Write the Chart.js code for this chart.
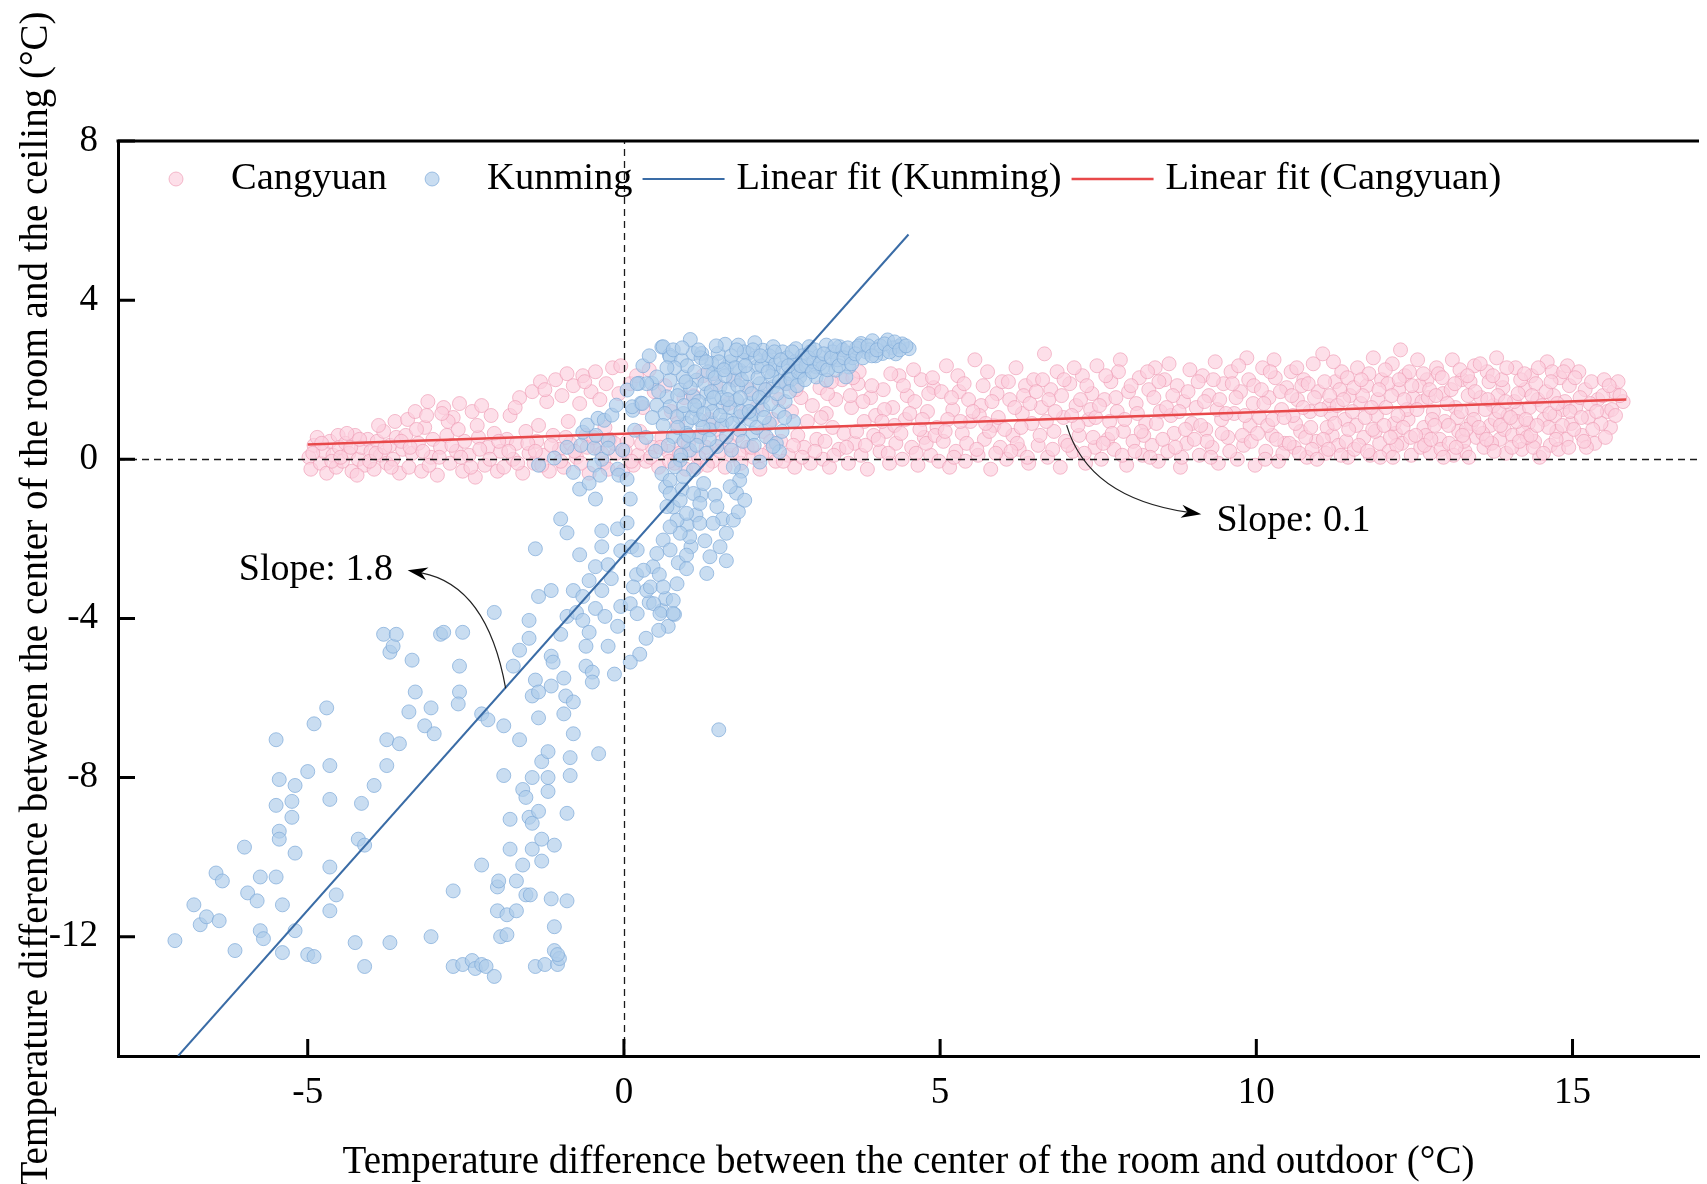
<!DOCTYPE html>
<html>
<head>
<meta charset="utf-8">
<title>Temperature difference: room centre vs ceiling</title>
<script src="https://cdn.jsdelivr.net/npm/chart.js@4.4.1/dist/chart.umd.min.js"></script>
<style>
  html, body { margin: 0; padding: 0; background: #fff; }
  #wrap { width: 1707px; height: 1184px; }
</style>
</head>
<body>
<div id="wrap"><canvas id="chart" width="1707" height="1184"></canvas></div>
<script>
// --- Axis ticks ---
const xTicks = [-5, 0, 5, 10, 15];
const yTicks = [-12, -8, -4, 0, 4, 8];

// --- Cangyuan points, flat x,y pairs ---
const cangyuanWest = [
  -4.98,0.05, -4.95,-0.25, -4.9,0.35, -4.85,0.55, -4.8,-0.1, -4.75,0.2, -4.7,-0.35, -4.65,0.45, -4.6,0.1, -4.55,-0.2, -4.52,0.6, -4.5,0.3,
  -4.45,-0.05, -4.4,0.4, -4.35,0.15, -4.3,-0.3, -4.25,0.6, -4.2,0.0, -4.15,0.3, -4.1,-0.15, -4.05,0.5, -4.0,0.2, -4.38,0.65, -4.22,-0.4,
  -3.95,-0.25, -3.9,0.45, -3.85,0.1, -3.8,0.7, -3.75,-0.1, -3.7,0.35, -3.65,0.0, -3.6,0.55, -3.55,-0.35, -3.5,0.25, -3.88,0.85, -3.62,0.95,
  -3.45,0.6, -3.42,1.0, -3.4,-0.2, -3.35,0.15, -3.3,1.2, -3.25,0.4, -3.2,-0.3, -3.15,0.8, -3.1,1.45, -3.05,0.05, -3.02,0.5, -3.28,0.75, -3.12,1.1,
  -2.95,-0.4, -2.9,0.3, -2.85,1.3, -2.8,0.6, -2.75,-0.1, -2.7,1.05, -2.65,0.2, -2.6,1.4, -2.55,-0.3, -2.52,0.45, -2.78,0.95, -2.62,0.75, -2.88,1.15,
  -2.45,0.1, -2.4,1.2, -2.35,-0.45, -2.3,0.55, -2.25,1.35, -2.2,-0.15, -2.15,0.3, -2.1,1.1, -2.05,0.65, -2.0,-0.3, -2.32,0.85,
  -1.95,0.2, -1.9,-0.2, -1.85,0.5, -1.8,1.1, -1.75,0.0, -1.7,0.4, -1.65,1.55, -1.6,-0.35, -1.55,0.7, -1.5,0.15, -1.72,1.3,
  -1.45,1.7, -1.42,-0.1, -1.38,0.45, -1.32,1.95, -1.28,0.1, -1.22,1.45, -1.18,-0.3, -1.12,0.6, -1.08,2.0, -1.02,0.25, -1.25,1.75, -1.35,0.85,
  -0.98,1.6, -0.95,-0.2, -0.9,2.15, -0.85,0.4, -0.8,1.85, -0.75,0.05, -0.7,1.4, -0.65,2.1, -0.6,0.6, -0.55,-0.35, -0.52,1.7, -0.88,0.95, -0.62,1.95,
  -0.45,2.2, -0.42,0.3, -0.38,1.5, -0.32,-0.1, -0.28,1.9, -0.22,0.5, -0.18,2.3, -0.12,0.15, -0.08,1.65, -0.02,-0.3, -0.3,0.8, -0.05,2.35,
  -4.92,0.15, -4.78,0.4, -4.62,-0.05, -4.48,0.05, -4.32,0.3, -4.18,0.5, -4.02,-0.05, -3.92,0.15, -3.78,0.3, -3.68,-0.2, -3.52,0.45,
  -3.38,0.3, -3.18,0.2, -3.08,-0.15, -2.92,0.05, -2.72,0.35, -2.58,0.05, -2.42,-0.2, -2.28,0.25, -2.12,0.0, -1.98,0.45, -1.82,0.2,
  -1.68,-0.1, -1.52,0.4, -1.4,0.2, -1.3,-0.15, -1.15,0.35, -1.0,-0.05, -0.92,0.55, -0.78,0.2, -0.68,-0.1, -0.58,0.3, -0.48,0.55,
  -0.35,0.15, -0.25,-0.25, -0.15,0.4
];
const cangyuanMid = [
  0.05,0.45, 0.1,1.9, 0.15,-0.15, 0.2,2.1, 0.25,0.7, 0.3,1.3, 0.35,-0.05, 0.4,2.25, 0.45,0.3, 0.48,1.7, 0.22,0.1,
  0.55,-0.2, 0.6,0.55, 0.65,1.85, 0.7,0.2, 0.75,1.2, 0.8,-0.1, 0.85,0.9, 0.9,0.35, 0.95,1.55, 0.98,-0.25,
  1.05,0.15, 1.1,1.6, 1.15,-0.2, 1.2,0.6, 1.25,2.1, 1.3,0.3, 1.35,1.0, 1.4,-0.05, 1.45,1.9, 1.48,0.75,
  1.55,0.45, 1.6,-0.2, 1.65,1.4, 1.7,0.1, 1.75,2.0, 1.8,0.6, 1.85,-0.1, 1.9,1.15, 1.95,0.3, 1.98,1.75,
  2.05,0.05, 2.1,1.3, 2.15,-0.25, 2.2,0.7, 2.25,1.75, 2.3,0.2, 2.35,1.0, 2.4,-0.05, 2.45,1.5, 2.48,0.45,
  2.55,1.9, 2.6,0.1, 2.65,1.2, 2.7,-0.2, 2.75,0.6, 2.8,1.55, 2.85,0.3, 2.9,0.95, 2.95,-0.1, 2.98,1.35,
  3.05,0.5, 3.1,1.8, 3.15,0.0, 3.2,1.15, 3.25,-0.2, 3.3,0.8, 3.35,1.5, 3.4,0.25, 3.45,2.0, 3.48,0.65, 3.22,1.65,
  3.55,-0.1, 3.6,1.3, 3.65,0.4, 3.7,1.9, 3.75,0.1, 3.8,0.95, 3.85,-0.25, 3.9,1.55, 3.95,0.6, 3.98,1.1, 3.72,2.2,
  4.05,0.2, 4.1,1.75, 4.15,0.7, 4.2,-0.1, 4.25,1.3, 4.3,0.4, 4.35,2.1, 4.4,0.0, 4.45,1.0, 4.48,1.6, 4.28,0.85,
  4.55,0.3, 4.6,1.45, 4.65,-0.15, 4.7,2.0, 4.75,0.55, 4.8,1.2, 4.85,0.1, 4.9,1.8, 4.95,0.8, 4.98,-0.05, 4.72,1.0,
  0.02,0.2, 0.12,-0.05, 0.28,0.4, 0.42,0.05, 0.58,0.3, 0.72,-0.05, 0.88,0.15, 1.02,0.4, 1.18,0.05, 1.32,-0.15,
  1.52,0.2, 1.68,0.35, 1.82,0.15, 2.02,0.3, 2.18,0.1, 2.32,0.45, 2.52,-0.05, 2.68,0.35, 2.82,0.05, 3.02,0.2,
  3.18,0.45, 3.32,0.1, 3.52,0.3, 3.68,0.7, 3.82,0.35, 4.02,0.5, 4.18,0.15, 4.38,0.65, 4.52,1.15, 4.62,0.15,
  4.78,0.4, 4.92,0.6, 3.58,1.6, 3.12,1.05, 2.72,1.75, 4.12,1.25, 4.42,1.85, 4.82,1.65,
  3.28,1.95, 3.62,2.05, 3.92,1.85, 4.22,2.15, 4.58,2.25, 4.88,2.05, 3.78,1.45, 4.08,0.95, 4.68,0.75
];
const cangyuanEast = [
  5.05,0.45, 5.1,2.35, 5.15,-0.2, 5.2,1.25, 5.25,0.2, 5.3,1.7, 5.35,0.65, 5.4,-0.05, 5.45,1.5, 5.48,0.95, 5.28,2.1, 5.12,1.0,
  5.55,2.5, 5.6,0.1, 5.65,1.35, 5.7,0.5, 5.75,2.2, 5.8,-0.25, 5.85,0.85, 5.9,1.65, 5.95,0.3, 5.98,1.95, 5.62,1.1, 5.78,0.7,
  6.05,0.0, 6.1,1.5, 6.15,0.6, 6.2,2.3, 6.25,0.25, 6.3,1.15, 6.35,1.85, 6.4,-0.1, 6.45,0.9, 6.48,2.0, 6.22,0.4, 6.32,1.6,
  6.55,0.35, 6.6,1.3, 6.65,2.65, 6.7,0.05, 6.75,1.75, 6.8,0.7, 6.85,2.2, 6.9,-0.2, 6.95,1.05, 6.98,0.45, 6.72,1.5, 6.62,2.0,
  7.05,1.9, 7.1,0.2, 7.15,1.35, 7.2,0.6, 7.25,2.1, 7.3,-0.1, 7.35,1.0, 7.4,1.65, 7.45,0.3, 7.48,2.35, 7.18,0.85, 7.38,1.25,
  7.55,0.0, 7.6,1.5, 7.65,0.5, 7.7,1.95, 7.75,0.25, 7.8,1.2, 7.85,2.5, 7.9,0.7, 7.95,-0.15, 7.98,1.7, 7.68,0.95, 7.82,2.2,
  8.05,0.45, 8.1,1.4, 8.15,2.05, 8.2,0.1, 8.25,0.9, 8.3,1.75, 8.35,0.35, 8.4,2.3, 8.45,-0.05, 8.48,1.2, 8.22,0.6, 8.38,1.55,
  8.55,2.0, 8.6,0.2, 8.65,1.1, 8.7,0.65, 8.75,1.85, 8.8,-0.2, 8.85,1.45, 8.9,0.4, 8.95,2.25, 8.98,0.9, 8.68,1.6, 8.82,0.05,
  9.05,1.3, 9.1,0.1, 9.15,2.1, 9.2,0.75, 9.25,1.6, 9.3,0.3, 9.35,2.45, 9.4,-0.1, 9.45,1.0, 9.48,1.9, 9.22,0.45, 9.38,1.25,
  9.55,0.55, 9.6,2.2, 9.65,1.15, 9.7,0.0, 9.75,1.7, 9.8,0.35, 9.85,2.55, 9.9,0.85, 9.95,1.4, 9.98,-0.15, 9.62,1.9, 9.78,0.6, 9.88,2.0,
  10.05,1.05, 10.1,2.3, 10.15,0.2, 10.2,1.55, 10.25,0.6, 10.3,2.05, 10.35,-0.05, 10.4,1.25, 10.45,0.4, 10.48,1.8, 10.18,0.85, 10.28,2.5, 10.42,0.15, 10.12,1.4,
  10.55,2.2, 10.6,0.3, 10.65,1.5, 10.7,0.7, 10.75,2.0, 10.8,0.05, 10.85,1.2, 10.9,2.4, 10.95,0.45, 10.98,1.7, 10.62,0.9, 10.72,1.85, 10.88,0.25, 10.58,1.1,
  11.05,2.65, 11.1,0.15, 11.15,1.35, 11.2,0.6, 11.25,1.95, 11.3,0.35, 11.35,2.2, 11.4,1.0, 11.45,0.05, 11.48,1.6, 11.12,0.8, 11.22,2.45, 11.32,1.75, 11.42,0.45, 11.18,1.15,
  11.55,0.25, 11.6,2.3, 11.65,1.4, 11.7,0.55, 11.75,1.85, 11.8,0.1, 11.85,2.55, 11.9,1.1, 11.95,0.4, 11.98,2.0, 11.58,0.85, 11.68,1.6, 11.78,2.15, 11.88,0.7, 11.92,1.5,
  12.05,1.3, 12.1,0.2, 12.15,2.4, 12.2,0.65, 12.25,1.75, 12.28,2.75, 12.3,0.4, 12.35,2.1, 12.4,1.0, 12.45,0.1, 12.48,1.55, 12.08,1.9, 12.18,0.9, 12.22,0.35, 12.38,1.25, 12.42,2.2, 12.12,0.55,
  12.55,2.5, 12.6,0.3, 12.62,1.45, 12.65,0.8, 12.7,2.0, 12.75,0.15, 12.8,1.2, 12.85,2.3, 12.9,0.5, 12.95,1.65, 12.98,0.95, 12.58,1.85, 12.68,0.6, 12.78,1.0, 12.88,2.15, 12.72,1.55, 12.92,0.25,
  13.05,0.4, 13.1,2.5, 13.15,1.3, 13.2,0.7, 13.25,2.0, 13.3,0.2, 13.35,1.6, 13.4,0.9, 13.45,2.35, 13.48,0.55, 13.08,1.75, 13.18,1.05, 13.28,0.45, 13.38,1.95, 13.42,1.25, 13.22,2.25, 13.32,0.75, 13.12,0.1,
  13.55,1.55, 13.6,0.3, 13.65,2.2, 13.7,0.85, 13.75,1.35, 13.8,2.55, 13.85,0.5, 13.9,1.8, 13.95,0.15, 13.98,1.1, 13.58,0.65, 13.68,1.95, 13.72,0.4, 13.78,1.0, 13.88,2.0, 13.92,0.75, 13.62,1.25, 13.82,1.6,
  14.05,0.6, 14.1,2.3, 14.15,1.2, 14.2,0.25, 14.25,1.75, 14.3,0.9, 14.35,2.1, 14.4,0.45, 14.45,1.5, 14.48,0.05, 14.08,1.45, 14.18,2.0, 14.22,0.7, 14.32,1.3, 14.38,0.3, 14.42,1.9, 14.12,0.95, 14.28,0.55,
  14.55,1.0, 14.6,2.45, 14.65,0.35, 14.7,1.6, 14.75,0.7, 14.8,2.05, 14.85,1.25, 14.9,0.5, 14.95,1.85, 14.98,0.9, 14.58,1.7, 14.68,2.2, 14.72,1.1, 14.78,0.25, 14.88,1.45, 14.62,0.8, 14.92,2.35,
  15.05,1.3, 15.1,2.2, 15.15,0.6, 15.2,1.75, 15.25,1.05, 15.3,1.95, 15.35,0.4, 15.4,1.5, 15.5,2.0, 15.55,1.2, 15.6,0.8, 15.65,1.7, 15.72,1.95, 15.8,1.45, 15.22,0.3, 15.45,0.9, 15.12,1.55, 15.62,1.25
];
const cangyuanEastExtra = [
  5.02,1.7, 5.08,0.7, 5.18,1.55, 5.22,0.05, 5.32,0.95, 5.38,1.9, 5.42,0.4, 5.52,1.2, 5.58,0.25, 5.68,1.85, 5.72,0.9, 5.82,1.45,
  5.88,0.15, 5.92,1.05, 6.02,0.75, 6.08,1.95, 6.12,0.2, 6.18,1.3, 6.28,0.8, 6.38,0.05, 6.42,1.4, 6.52,1.7, 6.58,0.6, 6.68,0.95,
  6.78,0.25, 6.82,1.2, 6.92,1.6, 6.96,2.0, 7.02,0.35, 7.08,1.1, 7.12,2.3, 7.22,1.5, 7.28,0.15, 7.32,1.85, 7.42,0.55, 7.46,1.05,
  7.52,1.35, 7.58,0.4, 7.62,2.1, 7.72,0.65, 7.78,1.55, 7.88,0.1, 7.92,1.0, 8.02,1.85, 8.08,0.2, 8.12,1.15, 8.18,0.7, 8.28,2.2,
  8.32,0.05, 8.42,0.9, 8.46,1.95, 8.52,0.5, 8.58,1.3, 8.62,2.4, 8.72,0.3, 8.78,1.2, 8.88,0.75, 8.92,1.7, 9.02,0.5, 9.08,1.95,
  9.12,0.85, 9.18,1.45, 9.28,0.05, 9.32,2.0, 9.42,1.5, 9.46,0.65, 9.52,1.15, 9.58,0.2, 9.68,1.55, 9.72,2.35, 9.82,1.1, 9.92,0.45, 9.96,1.85,
  10.02,0.65, 10.08,1.75, 10.14,0.0, 10.22,2.2, 10.26,1.0, 10.32,0.5, 10.38,1.7, 10.44,1.05, 10.52,0.4, 10.56,1.6, 10.64,2.3, 10.68,0.15,
  10.74,1.3, 10.78,0.55, 10.82,1.9, 10.86,0.8, 10.92,1.55, 10.96,0.0, 11.02,1.25, 11.06,0.5, 11.08,1.95, 11.14,0.25, 11.16,1.6, 11.24,0.9,
  11.28,1.35, 11.34,0.1, 11.38,1.5, 11.44,2.05, 11.46,0.75, 11.52,1.2, 11.54,1.8, 11.62,0.35, 11.66,2.0, 11.72,1.05, 11.76,0.2, 11.82,1.3,
  11.84,0.75, 11.94,1.75, 11.96,0.05, 12.02,0.85, 12.04,2.25, 12.14,1.6, 12.16,0.05, 12.24,1.1, 12.26,2.0, 12.32,0.8, 12.34,1.5, 12.44,0.55, 12.46,1.85,
  12.52,0.6, 12.54,1.25, 12.64,2.15, 12.66,0.35, 12.74,1.75, 12.76,0.5, 12.82,0.85, 12.84,1.6, 12.94,2.05, 12.96,0.05, 13.02,1.4, 13.04,0.85,
  13.14,1.9, 13.16,0.3, 13.24,1.2, 13.26,0.6, 13.34,2.1, 13.36,0.05, 13.44,1.0, 13.46,1.7, 13.52,0.8, 13.54,2.4, 13.64,0.5, 13.66,1.5,
  13.74,2.1, 13.76,0.2, 13.84,1.2, 13.86,0.85, 13.94,1.45, 13.96,2.3, 14.02,1.05, 14.04,0.3, 14.14,1.65, 14.16,0.45, 14.24,2.15, 14.26,1.0,
  14.34,0.6, 14.36,1.6, 14.44,0.85, 14.46,2.3, 14.52,1.35, 14.54,0.15, 14.64,1.15, 14.66,1.95, 14.74,0.5, 14.76,1.4, 14.84,0.85, 14.86,2.2,
  14.94,0.3, 14.96,1.2, 15.02,0.75, 15.04,2.05, 15.14,1.05, 15.18,0.45, 15.28,1.4, 15.32,0.75, 15.38,1.2, 15.48,1.6, 15.52,0.55, 15.58,1.85,
  15.68,1.1, 15.75,1.6
];

// --- Kunming points, flat x,y pairs ---
const kunmingLower = [
  -7.1,-12.1, -6.8,-11.2, -6.7,-11.7, -6.6,-11.5, -6.45,-10.4, -6.35,-10.6, -6.4,-11.6, -6.15,-12.35, -6.0,-9.75, -5.95,-10.9,
  -5.8,-11.1, -5.75,-10.5, -5.75,-11.85, -5.7,-12.05, -5.5,-7.05, -5.45,-8.05, -5.5,-8.7, -5.45,-9.35, -5.45,-9.55, -5.5,-10.5,
  -5.4,-11.2, -5.4,-12.4, -5.25,-9.0, -5.25,-8.6, -5.2,-8.2, -5.2,-9.9, -5.2,-11.85, -5.0,-12.45, -5.0,-7.85, -4.9,-6.65,
  -4.9,-12.5, -4.7,-6.25, -4.65,-7.7, -4.65,-8.55, -4.65,-10.25, -4.65,-11.35, -4.55,-10.95, -4.25,-12.15, -4.2,-9.55, -4.15,-8.65,
  -4.1,-12.75, -4.1,-9.7, -3.95,-8.2, -3.8,-4.4, -3.75,-7.05, -3.75,-7.7, -3.7,-12.15, -3.7,-4.85, -3.65,-4.7, -3.6,-4.4,
  -3.55,-7.15, -3.4,-6.35, -3.35,-5.05, -3.3,-5.85, -3.15,-6.7, -3.05,-6.25, -3.05,-12.0, -3.0,-6.9, -2.9,-4.4, -2.85,-4.35,
  -2.7,-10.85, -2.7,-12.75, -2.6,-5.85, -2.6,-5.2, -2.55,-4.35, -2.62,-6.15, -2.55,-12.7, -2.4,-12.6, -2.35,-12.8, -2.25,-6.4,
  -2.25,-12.7, -2.25,-10.2, -2.15,-6.55, -2.18,-12.75, -2.05,-3.85, -2.05,-13.0, -2.0,-10.75, -2.0,-11.35, -1.95,-12.0, -1.98,-10.6,
  -1.9,-6.7, -1.9,-7.95, -1.85,-11.45, -1.85,-11.95, -1.8,-9.05, -1.8,-9.8, -1.75,-5.2, -1.7,-10.6, -1.7,-11.35, -1.65,-4.8,
  -1.65,-7.05, -1.6,-10.2, -1.6,-8.3, -1.5,-4.5, -1.55,-10.95, -1.55,-8.5, -1.5,-9.0, -1.48,-10.95, -1.5,-4.05, -1.45,-5.95,
  -1.45,-8.0, -1.45,-9.15, -1.45,-9.8, -1.4,-12.75, -1.4,-5.55, -1.4,-2.25, -1.35,-3.45, -1.35,-5.85, -1.35,-6.5, -1.3,-7.6,
  -1.35,-8.85, -1.3,-9.55, -1.3,-10.1, -1.25,-12.7, -1.2,-7.35, -1.2,-8.0, -1.2,-8.35, -1.15,-3.3, -1.15,-4.95, -1.12,-5.1,
  -1.15,-5.7, -1.15,-11.05, -1.1,-9.7, -1.1,-11.75, -1.1,-12.35, -1.05,-12.7, -1.02,-12.55, -1.05,-12.45, -1.0,-4.4, -0.95,-5.5,
  -0.95,-6.4, -0.92,-5.95, -0.9,-11.1, -1.0,-1.5, -0.9,-1.85, -0.9,-3.95, -0.9,-8.9, -0.85,-7.95, -0.8,-6.9, -0.85,-7.5,
  -0.8,-6.1, -0.8,-3.3, -0.75,-3.85, -0.7,-2.4, -0.7,-0.75, -0.65,-3.45, -0.65,-4.05, -0.6,-4.7, -0.6,-5.2, -0.55,-3.05,
  -0.55,-4.35, -0.5,-5.35, -0.5,-5.6, -0.45,-1.0, -0.45,-2.7, -0.45,-3.75, -0.4,-7.4, -0.35,-1.8, -0.35,-2.2, -0.35,-3.3,
  -0.3,-3.95, -0.35,0.0, -0.25,-4.7, -0.25,-2.65, -0.2,-3.0, -0.15,-5.4, -0.1,-1.75, -0.1,-4.2, -0.05,-3.7, -0.05,-2.3, -0.1,-0.25
];
const kunmingNearZero = [
  -1.1,0.03, -0.8,-0.33, -0.68,0.35, -0.65,0.68, -0.58,0.86, -0.47,0.28, -0.47,-0.15, -0.44,0.6, -0.41,1.03, -0.38,-0.4,
  -0.31,0.98, -0.25,0.48, -0.25,0.28, -0.19,1.11, -0.12,1.36, -0.08,-0.4, -0.02,0.23, 0.05,1.74, 0.14,1.23, 0.17,0.73,
  0.24,1.91, 0.27,1.41, 0.44,1.91, 0.6,2.82, 0.72,2.62, -1.35,-0.15, -0.9,0.3, -0.55,-0.6, 0.05,-0.5, 0.1,-1.0,
  0.05,-1.6, 0.12,-2.2, 0.2,-2.9, 0.4,-3.6, 0.6,-3.8, 0.7,-4.2, 0.35,-4.5, 0.55,-4.3, 0.8,-3.9, 0.25,-4.9, 0.1,-5.1, 1.5,-6.8,
  0.66,-0.7, 0.78,-1.2, 0.92,-0.75, 1.0,-1.65, 1.06,-2.2, 1.14,-1.4, 1.22,-0.9, 1.28,-2.05, 1.44,-0.9, 1.56,-1.5,
  1.62,-2.55, 1.78,-0.85, 1.86,-0.3, 0.46,-2.7, 0.56,-2.9, 0.86,-2.6, 0.66,-3.5, 0.36,-3.3
];
const kunmingCore = [
  0.62,2.83, 1.05,3.01, 0.73,2.57, 0.91,2.49, 1.1,2.66, 1.23,2.66, 1.49,2.66, 1.6,2.89, 1.81,2.87, 2.07,2.93,
  1.96,2.66, 2.2,2.74, 2.36,2.83, 2.51,2.7, 2.72,2.78, 2.93,2.83, 3.2,2.87, 3.41,2.83, 3.75,2.91, 3.93,2.98,
  4.17,3.0, 4.35,2.84, 4.51,2.78, 4.09,2.66, 3.83,2.7, 3.56,2.66, 3.25,2.49, 3.04,2.32, 2.83,2.24, 2.62,2.15,
  2.36,2.24, 2.1,2.32, 1.83,2.24, 1.62,2.32, 1.41,2.15, 1.15,1.99, 0.94,2.07, 0.73,1.99, 0.52,2.07, 0.36,1.9,
  0.21,1.9, 0.13,1.32, 0.29,1.4, 0.52,1.36, 0.68,1.57, 0.89,1.74, 1.1,1.57, 1.31,1.65, 1.52,1.82, 1.73,1.99,
  1.94,1.82, 2.15,1.9, 2.36,1.82, 2.57,1.9, 2.78,2.07, 3.04,2.07, 3.35,2.24, 3.56,2.32, 3.51,2.07, 3.2,1.99,
  2.72,2.41, 2.28,2.49, 1.89,2.49, 1.68,2.45, 1.39,2.41,
  0.73,1.32, 0.94,1.15, 1.15,1.24, 1.36,1.4, 1.57,1.32, 1.78,1.49, 1.99,1.4, 2.2,1.57, 2.04,1.15, 1.83,1.07,
  1.62,0.99, 1.41,0.9, 1.2,0.99, 0.99,0.9, 0.84,1.07, 0.78,0.57, 0.99,0.65, 1.2,0.57, 1.36,0.74, 1.62,0.57,
  1.83,0.74, 2.04,0.65, 2.25,0.57, 2.41,0.4, 2.46,0.19, 2.15,-0.07, 2.36,0.32, 1.7,0.23, 1.47,0.32, 1.04,0.23,
  0.89,-0.02, 1.1,-0.27, 0.81,-0.19,
  0.6,-0.36, 0.73,-0.53, 0.94,-0.44, 0.73,-0.86, 0.89,-1.03, 1.1,-0.86, 1.26,-0.61, 1.2,-1.11, 0.68,-1.19, 0.84,-1.53,
  0.99,-1.36, 1.2,-1.61, 1.04,-1.95, 0.89,-1.86, 0.73,-1.7, 0.62,-2.03, 0.52,-2.37, 0.73,-2.28, 0.99,-2.41, 1.36,-2.45,
  1.52,-2.2, 1.62,-1.86, 1.73,-1.53, 1.81,-1.32, 1.91,-1.03, 1.83,-0.53, 1.73,-0.19, 1.68,-0.69, 1.47,-1.19, 1.41,-1.61,
  1.31,-2.87, 0.21,-2.28, 0.31,-2.79, 0.42,-3.21, 0.62,-3.21, 0.78,-3.55, 0.99,-2.75, 0.84,-3.13, 0.15,-3.21, 0.1,-3.63,
  0.47,-3.63, 0.21,-3.88, 0.57,-3.88, 0.78,-3.88,
  1.0,2.35, 1.05,1.8, 1.12,2.2, 1.18,1.45, 1.22,2.55, 1.28,1.9, 1.33,2.2, 1.38,1.7, 1.44,2.05, 1.5,2.45,
  1.55,1.55, 1.6,2.1, 1.66,1.75, 1.7,2.6, 1.76,2.3, 1.8,1.85, 1.86,2.0, 1.9,2.7, 1.96,2.15, 2.02,1.65,
  2.08,2.55, 2.12,2.05, 2.18,2.35, 2.24,1.75, 2.3,2.6, 2.34,2.1, 2.4,2.4, 2.46,1.95, 2.52,2.3, 2.58,2.55,
  2.64,2.0, 2.7,2.45, 2.76,2.2, 2.82,2.6, 2.88,2.35, 2.95,2.7, 3.0,2.45, 3.08,2.6, 3.14,2.3, 3.3,2.7,
  3.38,2.5, 3.46,2.75, 3.62,2.55, 3.68,2.8, 3.88,2.75, 3.98,2.6, 4.05,2.85, 4.25,2.8, 4.4,2.9, 4.3,2.65,
  0.85,1.6, 0.95,1.35, 1.08,1.05, 1.25,0.8, 1.4,1.2, 1.55,0.85, 1.68,1.3, 1.85,1.2, 2.0,1.0, 2.1,0.8,
  2.2,1.25, 2.3,0.9, 2.45,1.2, 2.55,1.45, 2.62,1.7, 2.5,0.7, 2.68,0.95, 0.95,0.45, 1.15,0.35, 1.3,0.15, 0.9,0.1,
  0.55,1.7, 0.65,1.15, 0.8,2.3, 0.85,0.8, 0.98,1.95, 1.02,0.6, 1.12,1.35, 1.18,2.75, 1.26,1.15, 1.3,2.45,
  1.35,0.5, 1.42,1.55, 1.46,2.85, 1.52,1.1, 1.58,2.25, 1.64,1.5, 1.72,0.9, 1.78,2.75, 1.84,1.55, 1.88,0.45,
  1.92,2.35, 1.98,1.2, 2.04,2.75, 2.06,0.35, 2.14,1.55, 2.16,2.6, 2.22,1.05, 2.28,2.2, 2.32,1.4, 2.38,2.7,
  2.42,1.65, 2.48,2.5, 2.54,1.05, 2.6,2.35, 2.66,2.7, 2.74,1.85, 2.8,2.35, 2.86,2.0, 2.92,2.55, 2.98,2.2,
  3.02,2.75, 3.1,2.4, 3.16,2.65, 3.22,2.25, 3.28,2.55, 3.34,2.85, 3.4,2.35, 3.48,2.55, 3.54,2.8, 3.6,2.4,
  3.66,2.65, 3.72,2.85, 3.78,2.55, 3.86,2.85, 3.92,2.6, 4.0,2.75, 4.12,2.9, 4.2,2.7, 4.28,2.95, 4.36,2.75,
  4.46,2.85, 0.35,0.55, 0.45,1.05, 0.5,0.2, 0.62,0.85, 0.7,0.35, 0.3,2.35, 0.4,2.6, 0.68,2.3, 0.78,2.75, 0.92,2.8
];

// --- Linear fits (end points) ---
const kunmingFitX = [-7.05, 4.5];
const kunmingFitY = [-15.0, 5.65];
const cangyuanFitX = [-5.0, 15.85];
const cangyuanFitY = [0.37, 1.5];

function toPoints(flat) {
  const pts = [];
  for (let i = 0; i < flat.length; i += 2) pts.push({ x: flat[i], y: flat[i + 1] });
  return pts;
}
function zipPoints(xs, ys) {
  return xs.map((x, i) => ({ x: x, y: ys[i] }));
}

const SERIF = '"Liberation Serif", "Times New Roman", serif';

// Arrows pointing at the fitted lines, in data units
const slopeNotes = [
  { text: 'Slope: 1.8', label: [-6.09, -2.79], tail: [-1.87, -5.76], ctrl: [-2.16, -3.17], tip: [-3.42, -2.79] },
  { text: 'Slope: 0.1', label: [9.37, -1.56], tail: [7.0, 0.86], ctrl: [7.34, -0.96], tip: [9.13, -1.38] }
];

function drawArrow(ctx, p0, c, p2) {
  const ang = Math.atan2(p2.y - c.y, p2.x - c.x);
  const len = 20, half = 6.5;
  const cos = Math.cos(ang), sin = Math.sin(ang);
  ctx.beginPath();
  ctx.moveTo(p0.x, p0.y);
  ctx.quadraticCurveTo(c.x, c.y, p2.x - len * 0.7 * cos, p2.y - len * 0.7 * sin);
  ctx.stroke();
  ctx.beginPath();
  ctx.moveTo(p2.x, p2.y);
  ctx.lineTo(p2.x - len * cos + half * sin, p2.y - len * sin - half * cos);
  ctx.lineTo(p2.x - len * 0.7 * cos, p2.y - len * 0.7 * sin);
  ctx.lineTo(p2.x - len * cos - half * sin, p2.y - len * sin + half * cos);
  ctx.closePath();
  ctx.fill();
}

const decorPlugin = {
  id: 'decor',
  afterDatasetsDraw(chart) {
    const { ctx, chartArea: a, scales: { x, y } } = chart;
    ctx.save();
    // dashed zero lines
    ctx.setLineDash([7, 5]);
    ctx.strokeStyle = '#1a1a1a';
    ctx.lineWidth = 1.3;
    const x0 = Math.round(x.getPixelForValue(0)) + 0.5;
    const y0 = Math.round(y.getPixelForValue(0)) + 0.5;
    ctx.beginPath();
    ctx.moveTo(x0, a.bottom); ctx.lineTo(x0, a.top);
    ctx.moveTo(a.left, y0); ctx.lineTo(a.right, y0);
    ctx.stroke();
    ctx.setLineDash([]);

    // top frame line
    ctx.strokeStyle = '#000';
    ctx.lineWidth = 3;
    ctx.beginPath();
    ctx.moveTo(a.left - 1.5, a.top); ctx.lineTo(a.right, a.top);
    ctx.stroke();

    // inward tick marks
    const tl = 17;
    ctx.beginPath();
    x.ticks.forEach(t => {
      const px = x.getPixelForValue(t.value);
      ctx.moveTo(px, a.bottom); ctx.lineTo(px, a.bottom - tl);
    });
    y.ticks.forEach(t => {
      const py = y.getPixelForValue(t.value);
      ctx.moveTo(a.left, py); ctx.lineTo(a.left + tl, py);
    });
    ctx.stroke();

    // slope annotations
    ctx.fillStyle = '#000';
    ctx.strokeStyle = '#222';
    ctx.lineWidth = 1.2;
    ctx.font = '38px ' + SERIF;
    ctx.textBaseline = 'middle';
    ctx.textAlign = 'left';
    const P = v => ({ x: x.getPixelForValue(v[0]), y: y.getPixelForValue(v[1]) });
    slopeNotes.forEach(n => {
      drawArrow(ctx, P(n.tail), P(n.ctrl), P(n.tip));
      const l = P(n.label);
      ctx.fillText(n.text, l.x, l.y);
    });

    // legend inside the plot
    ctx.font = '38.5px ' + SERIF;
    const cy = a.top + 38;
    let cx = a.left + 58;
    const items = chart.data.datasets.slice().sort((p, q) => p.legendOrder - q.legendOrder);
    items.forEach((ds, i) => {
      if (ds.showLine) {
        const start = cx + 10, end = start + 82;
        ctx.strokeStyle = ds.borderColor;
        ctx.lineWidth = ds.borderWidth;
        ctx.beginPath(); ctx.moveTo(start, cy); ctx.lineTo(end, cy); ctx.stroke();
        cx = end + 12;
      } else {
        const c = i === 0 ? cx : cx + 45;
        ctx.beginPath(); ctx.arc(c, cy, ds.pointRadius, 0, Math.PI * 2);
        ctx.fillStyle = ds.backgroundColor; ctx.fill();
        ctx.strokeStyle = ds.borderColor; ctx.lineWidth = 1; ctx.stroke();
        cx = c + 55;
      }
      ctx.fillStyle = '#000';
      ctx.fillText(ds.label, cx, cy);
      cx += ctx.measureText(ds.label).width;
    });
    ctx.restore();
  }
};

const cangyuanStyle = {
  pointRadius: 7,
  backgroundColor: 'rgba(252, 208, 222, 0.68)',
  borderColor: 'rgba(238, 155, 180, 0.65)',
  borderWidth: 1
};
const kunmingStyle = {
  pointRadius: 7,
  backgroundColor: 'rgba(176, 205, 234, 0.68)',
  borderColor: 'rgba(125, 170, 216, 0.7)',
  borderWidth: 1
};

new Chart(document.getElementById('chart'), {
  type: 'scatter',
  data: {
    datasets: [
      Object.assign({
        label: 'Cangyuan', legendOrder: 0, order: 3,
        data: toPoints(cangyuanWest.concat(cangyuanMid, cangyuanEast, cangyuanEastExtra))
      }, cangyuanStyle),
      Object.assign({
        label: 'Kunming', legendOrder: 1, order: 2,
        data: toPoints(kunmingLower.concat(kunmingNearZero, kunmingCore))
      }, kunmingStyle),
      {
        label: 'Linear fit (Kunming)', legendOrder: 2, order: 1,
        data: zipPoints(kunmingFitX, kunmingFitY),
        showLine: true, pointRadius: 0, borderColor: '#3a6ca6', borderWidth: 2, backgroundColor: '#3a6ca6'
      },
      {
        label: 'Linear fit (Cangyuan)', legendOrder: 3, order: 0,
        data: zipPoints(cangyuanFitX, cangyuanFitY),
        showLine: true, pointRadius: 0, borderColor: '#e8484a', borderWidth: 2.5, backgroundColor: '#e8484a'
      }
    ]
  },
  options: {
    responsive: false,
    animation: false,
    events: [],
    layout: { padding: { top: 141, right: 0, bottom: 0, left: 0 } },
    plugins: { legend: { display: false }, tooltip: { enabled: false } },
    scales: {
      x: {
        type: 'linear', min: -8, max: 17,
        afterBuildTicks: s => { s.ticks = xTicks.map(v => ({ value: v })); },
        afterFit: s => { s.height = 128; },
        grid: { display: false, drawTicks: false },
        border: { display: true, color: '#000', width: 3 },
        ticks: { color: '#000', padding: 15, maxRotation: 0, autoSkip: false, font: { family: SERIF, size: 37 } },
        title: {
          display: true, color: '#000', padding: { top: 0, bottom: -2 },
          text: 'Temperature difference between the center of the room and outdoor (°C)',
          font: { family: SERIF, size: 39 }
        }
      },
      y: {
        type: 'linear', min: -15, max: 8,
        afterBuildTicks: s => { s.ticks = yTicks.map(v => ({ value: v })); },
        afterFit: s => { s.width = 118; },
        grid: { display: false, drawTicks: false },
        border: { display: true, color: '#000', width: 3 },
        ticks: { color: '#000', padding: 20, autoSkip: false, font: { family: SERIF, size: 37 } },
        title: {
          display: true, color: '#000', padding: { top: 13, bottom: 0 },
          text: 'Temperature difference between the center of the room and the ceiling (°C)',
          font: { family: SERIF, size: 39 }
        }
      }
    }
  },
  plugins: [decorPlugin]
});
</script>
</body>
</html>
